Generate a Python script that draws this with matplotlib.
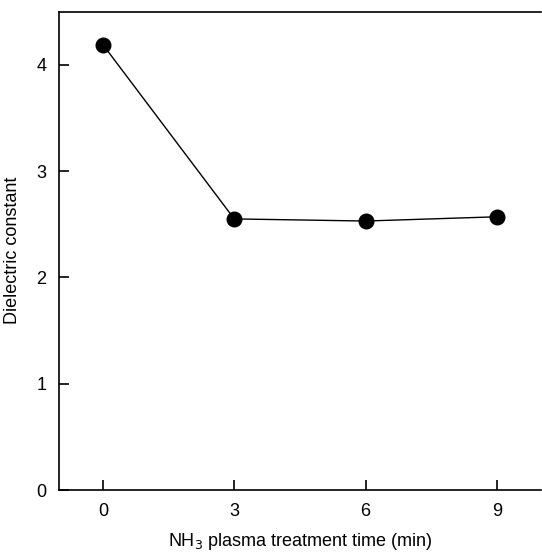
import matplotlib
matplotlib.use("Agg")
import matplotlib.pyplot as plt

plt.rcParams['font.family'] = ['Liberation Sans', 'DejaVu Sans']

time_min = [0, 3, 6, 9]
dielectric = [4.19, 2.55, 2.53, 2.57]
x_ticks = [0, 3, 6, 9]
y_ticks = [0, 1, 2, 3, 4]

fig = plt.figure(figsize=(5.42, 5.52), dpi=100)
ax = fig.add_axes([0.1089, 0.1123, 0.889, 0.8667])

ax.plot(time_min, dielectric, color='black', linewidth=1.0,
        marker='o', markersize=10.5, markerfacecolor='black')

ax.set_xlim(-1, 10)
ax.set_ylim(0, 4.5)
ax.set_xticks(x_ticks)
ax.set_yticks(y_ticks)
ax.tick_params(direction='in', length=7, width=1.2, labelsize=13, pad=9)
ax.spines['right'].set_visible(False)
for s in ['left', 'bottom', 'top']:
    ax.spines[s].set_linewidth(1.2)

ax.set_xlabel('NH$_3$ plasma treatment time (min)', fontsize=13, labelpad=8)
ax.set_ylabel('Dielectric constant', fontsize=13, labelpad=11)

fig.savefig('out.png', dpi=100)
